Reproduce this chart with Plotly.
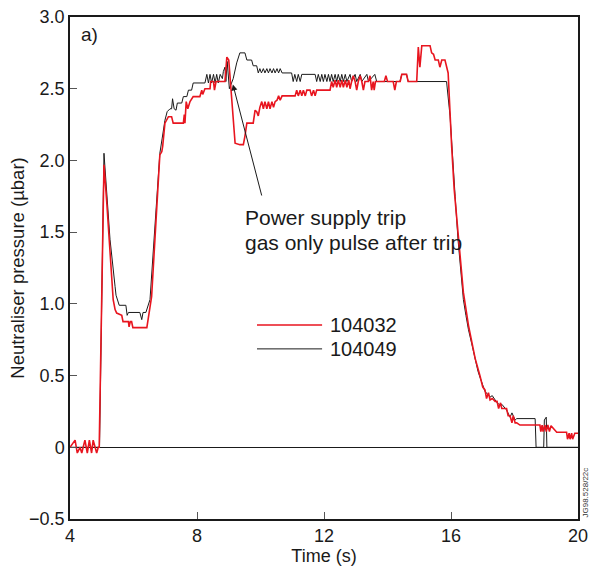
import plotly.graph_objects as go

# ---- data ----
t_104049 = [4.0, 4.93, 5.07, 5.16, 5.26, 5.42, 5.45, 5.55, 5.76, 5.80, 5.84, 6.20, 6.26, 6.30, 6.39,
            6.52, 6.68, 6.74, 6.83, 6.90, 6.99, 7.06, 7.15, 7.20, 7.23, 7.28, 7.34, 7.38, 7.52, 7.57,
            7.68, 7.73, 7.83, 7.88, 8.25, 8.31, 8.36, 8.41, 8.46, 8.52, 8.57, 8.62, 8.67, 8.73, 8.80,
            8.83, 8.88, 8.91, 8.95, 9.02, 9.08, 9.14, 9.25, 9.35, 9.51, 9.57, 9.72, 9.77, 9.88, 9.93,
            9.98, 10.03, 10.09, 10.14, 10.20, 10.25, 10.30, 10.36, 10.41, 10.46, 10.52, 10.57, 10.62,
            10.68, 10.98, 11.03, 11.08, 11.14, 11.19, 11.25, 11.30, 11.72, 11.77, 11.82, 11.88, 11.93,
            11.98, 12.03, 12.09, 12.14, 12.19, 12.24, 12.29, 12.35, 12.40, 12.45, 12.51, 12.56, 12.61,
            12.67, 12.72, 12.82, 12.87, 12.98, 13.03, 13.14, 13.19, 13.35, 13.40, 13.60, 13.66, 14.39,
            14.45, 14.60, 14.65, 15.86, 15.97, 16.05, 16.13, 16.22, 16.30, 16.39, 16.47, 16.55, 16.65,
            16.76, 16.85, 16.91, 17.00, 17.07, 17.15, 17.23, 17.30, 17.39, 17.45, 17.54, 17.60, 17.75,
            17.86, 17.92, 18.02, 18.07, 18.65, 18.68, 18.92, 18.94, 19.00, 19.02, 20.0]
p_104049 = [0.0, 0.0, 2.05, 1.79, 1.45, 1.12, 1.06, 0.99, 0.99, 0.92, 0.94, 0.94, 0.89, 0.94, 0.94,
            1.03, 1.55, 1.72, 2.05, 2.15, 2.28, 2.34, 2.36, 2.36, 2.43, 2.36, 2.35, 2.40, 2.40, 2.445,
            2.445, 2.49, 2.49, 2.54, 2.54, 2.60, 2.54, 2.60, 2.54, 2.60, 2.54, 2.60, 2.54, 2.60, 2.57,
            2.62, 2.65, 2.55, 2.69, 2.50, 2.54, 2.57, 2.68, 2.75, 2.75, 2.70, 2.70, 2.66, 2.66, 2.61,
            2.64, 2.61, 2.64, 2.61, 2.64, 2.61, 2.64, 2.61, 2.64, 2.61, 2.64, 2.61, 2.64,
            2.61, 2.61, 2.55, 2.60, 2.55, 2.60, 2.55, 2.60, 2.60, 2.55, 2.60, 2.55, 2.60,
            2.55, 2.60, 2.55, 2.60, 2.55, 2.60, 2.55, 2.60, 2.55, 2.60, 2.55, 2.60, 2.55,
            2.60, 2.55, 2.60, 2.55, 2.60, 2.55, 2.60, 2.55, 2.60, 2.55, 2.60, 2.55, 2.55,
            2.60, 2.60, 2.55, 2.55, 2.31, 2.00, 1.75, 1.45, 1.22, 1.03, 0.92, 0.82, 0.725,
            0.61, 0.53, 0.49, 0.43, 0.39, 0.37, 0.35, 0.36, 0.33, 0.31, 0.295, 0.30, 0.26,
            0.21, 0.24, 0.19, 0.20, 0.20, 0.0, 0.0, 0.19, 0.21, 0.0, 0.0]

t_104032 = [4.0, 4.16, 4.23, 4.315, 4.37, 4.47, 4.545, 4.61, 4.68, 4.73, 4.84, 4.89, 4.92, 5.07,
            5.16, 5.26, 5.36, 5.42, 5.47, 5.63, 5.67, 5.84, 5.86, 5.90, 5.94, 5.98, 6.42, 6.57, 6.73,
            6.83, 6.89, 6.92, 6.99, 7.10, 7.20, 7.25, 7.57, 7.60, 7.62, 7.66, 7.71, 7.78, 7.88, 8.09,
            8.15, 8.18, 8.25, 8.41, 8.43, 8.52, 8.55, 8.60, 8.88, 8.94, 9.00, 9.20, 9.35, 9.46, 9.51,
            9.57, 9.77, 9.83, 9.88, 9.93, 9.98, 10.04, 10.09, 10.14, 10.20, 10.25, 10.30, 10.36, 10.41,
            10.46, 10.52, 10.57, 10.62, 10.68, 11.09, 11.14, 11.19, 11.25, 11.30, 11.35, 11.41, 11.46,
            11.56, 11.61, 11.67, 11.72, 11.77, 12.19, 12.24, 12.29, 12.35, 12.40, 12.45, 12.51, 12.56,
            12.61, 12.67, 12.72, 12.78, 12.82, 12.87, 12.92, 12.98, 13.03, 13.08, 13.14, 13.19, 13.24,
            13.29, 13.40, 13.45, 13.50, 13.55, 13.58, 13.62, 13.90, 13.95, 14.00, 14.18, 14.23, 14.28,
            14.40, 14.45, 14.60, 14.65, 14.92, 14.97, 15.02, 15.08, 15.34, 15.39, 15.45, 15.50, 15.60,
            15.65, 15.71, 15.81, 15.91, 16.02, 16.10, 16.22, 16.39, 16.55, 16.65, 16.76, 16.91, 17.00,
            17.07, 17.12, 17.18, 17.23, 17.30, 17.39, 17.45, 17.50, 17.56, 17.60, 17.75, 17.80, 17.86,
            17.92, 17.96, 18.02, 18.07, 18.12, 18.17, 18.80, 18.83, 18.87, 18.90, 18.96, 19.00, 19.05,
            19.10, 19.15, 19.33, 19.64, 19.67, 19.72, 19.75, 19.80, 19.83, 19.90, 20.0]
p_104032 = [0.0, 0.05, -0.04, 0.0, -0.04, 0.05, -0.04, 0.05, -0.04, 0.05, -0.04, 0.0, 0.0, 1.97,
            1.70, 1.38, 1.03, 0.96, 0.936, 0.92, 0.876, 0.876, 0.84, 0.876, 0.876, 0.834, 0.834, 1.05, 1.61,
            2.04, 2.06, 2.10, 2.26, 2.305, 2.305, 2.26, 2.26, 2.32, 2.26, 2.41, 2.36, 2.41, 2.445, 2.445,
            2.49, 2.46, 2.50, 2.50, 2.55, 2.55, 2.49, 2.55, 2.55, 2.72, 2.70, 2.12, 2.11, 2.11, 2.17,
            2.26, 2.26, 2.35, 2.34, 2.31, 2.37, 2.41, 2.36, 2.41, 2.36, 2.41, 2.36, 2.41, 2.37,
            2.41, 2.42, 2.45, 2.42, 2.45, 2.45, 2.49, 2.45, 2.49, 2.45, 2.49, 2.45, 2.49,
            2.49, 2.45, 2.49, 2.45, 2.49, 2.49, 2.55, 2.51, 2.56, 2.51, 2.56, 2.51, 2.56,
            2.51, 2.56, 2.51, 2.56, 2.50, 2.55, 2.59, 2.55, 2.49, 2.55, 2.59, 2.55, 2.49,
            2.55, 2.55, 2.59, 2.49, 2.55, 2.49, 2.55, 2.55, 2.59, 2.55, 2.55, 2.49, 2.55,
            2.55, 2.60, 2.60, 2.55, 2.55, 2.79, 2.65, 2.80, 2.80, 2.75, 2.74, 2.70, 2.70,
            2.65, 2.70, 2.70, 2.61, 2.10, 1.80, 1.50, 1.08, 0.85, 0.74, 0.62, 0.50, 0.42,
            0.40, 0.34, 0.38, 0.33, 0.34, 0.32, 0.32, 0.27, 0.31, 0.27, 0.27, 0.22, 0.22,
            0.17, 0.22, 0.17, 0.17, 0.16, 0.155, 0.155, 0.11, 0.155, 0.11, 0.155, 0.11, 0.155,
            0.11, 0.15, 0.105, 0.105, 0.056, 0.098, 0.056, 0.098, 0.056, 0.098, 0.098]

x_ticks = [4, 8, 12, 16, 20]
y_ticks = [-0.5, 0, 0.5, 1.0, 1.5, 2.0, 2.5, 3.0]
y_tick_text = ["\u22120.5", "0", "0.5", "1.0", "1.5", "2.0", "2.5", "3.0"]

RED = "#e8151f"
BLACK = "#1a1a1a"
FONT = "Liberation Sans, Arial, sans-serif"

fig = go.Figure()
fig.add_trace(go.Scatter(x=t_104049, y=p_104049, mode="lines", name="104049",
                         line=dict(color=BLACK, width=1)))
fig.add_trace(go.Scatter(x=t_104032, y=p_104032, mode="lines", name="104032",
                         line=dict(color=RED, width=1.6)))

# legend drawn inside plot
fig.add_shape(type="line", x0=9.89, x1=11.94, y0=0.853, y1=0.853, xref="x", yref="y",
              line=dict(color=RED, width=1.6))
fig.add_shape(type="line", x0=9.89, x1=11.94, y0=0.686, y1=0.686, xref="x", yref="y",
              line=dict(color=BLACK, width=1))
fig.add_annotation(x=12.12, y=0.853, xref="x", yref="y", text="104032", showarrow=False,
                   xanchor="left", yanchor="middle", font=dict(size=20, color=BLACK, family=FONT))
fig.add_annotation(x=12.12, y=0.686, xref="x", yref="y", text="104049", showarrow=False,
                   xanchor="left", yanchor="middle", font=dict(size=20, color=BLACK, family=FONT))

# arrow annotation
fig.add_annotation(x=9.13, y=2.53, ax=10.05, ay=1.745, axref="x", ayref="y", xref="x", yref="y",
                   text="", showarrow=True, arrowhead=2, arrowsize=1.2, arrowwidth=1,
                   arrowcolor=BLACK)
fig.add_annotation(x=9.45, y=1.599, xref="x", yref="y", text="Power supply trip", showarrow=False,
                   xanchor="left", yanchor="middle", font=dict(size=21, color=BLACK, family=FONT))
fig.add_annotation(x=9.45, y=1.425, xref="x", yref="y", text="gas only pulse after trip",
                   showarrow=False, xanchor="left", yanchor="middle",
                   font=dict(size=21, color=BLACK, family=FONT))

fig.add_annotation(x=0.018, y=0.965, xref="paper", yref="paper", text="a)", showarrow=False,
                   xanchor="left", yanchor="middle", font=dict(size=19, color=BLACK, family=FONT))
fig.add_annotation(x=1.0, y=0.0, xref="paper", yref="paper", text="JG98.528/22c",
                   showarrow=False, textangle=-90, xanchor="left", yanchor="bottom",
                   xshift=1, borderpad=0,
                   font=dict(size=8, color="#333333", family=FONT))

fig.update_layout(
    width=590, height=569,
    margin=dict(l=70, r=12, t=17, b=50),
    paper_bgcolor="white", plot_bgcolor="white",
    showlegend=False,
    font=dict(family=FONT, size=18, color=BLACK),
)
fig.update_xaxes(range=[4, 20], tickvals=x_ticks, ticktext=[str(v) for v in x_ticks],
                 ticks="inside", ticklen=7, tickcolor="#555555", tickwidth=1,
                 showline=True, linecolor=BLACK, linewidth=1.5, mirror=True,
                 showgrid=False, zeroline=False, automargin=False,
                 title=dict(text="Time (s)", standoff=2, font=dict(size=18)),
                 tickfont=dict(size=18))
fig.update_yaxes(range=[-0.5, 3.0], tickvals=y_ticks, ticktext=y_tick_text,
                 ticks="inside", ticklen=7, tickcolor="#555555", tickwidth=1,
                 showline=True, linecolor=BLACK, linewidth=1.5, mirror=True,
                 showgrid=False, zeroline=True, zerolinecolor=BLACK, zerolinewidth=1,
                 automargin=False,
                 title=dict(text="Neutraliser pressure (\u00b5bar)", standoff=0, font=dict(size=18.5)),
                 tickfont=dict(size=18))

fig.write_html("out.html")
